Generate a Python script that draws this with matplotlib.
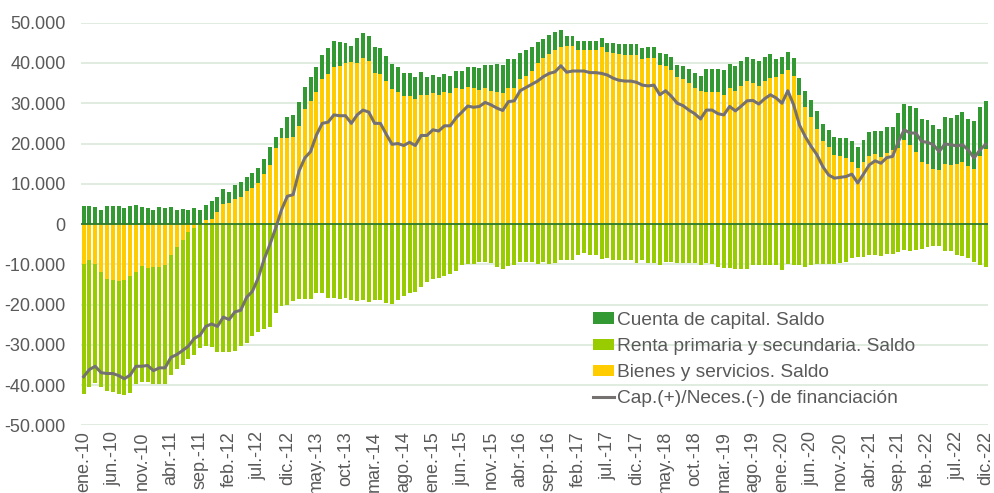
import matplotlib
matplotlib.use("Agg")
import matplotlib.pyplot as plt
from matplotlib.ticker import FuncFormatter
import numpy as np

plt.rcParams['font.family'] = ['Liberation Sans', 'DejaVu Sans']

# meses ene-10 .. dic-22 (valores en miles, se pintan en unidades)
meses = ["ene.", "feb.", "mar.", "abr.", "may.", "jun.",
         "jul.", "ago.", "sep.", "oct.", "nov.", "dic."]
anios = list(range(10, 23))
etiquetas = [m + "-" + str(a) for a in anios for m in meses]

bienes = [
    -9.8, -8.8, -10.0, -12.0, -13.6, -13.9, -14.2, -14.0, -12.8, -11.8, -10.3, -11.0,
    -10.7, -10.7, -10.1, -7.8, -5.8, -4.0, -1.9, -1.0, -0.3, 1.1, 1.3, 3.0,
    5.0, 5.2, 6.3, 6.8, 8.3, 8.9, 10.3, 12.5, 14.6, 18.8, 21.3, 21.3,
    21.5, 24.4, 28.6, 30.6, 32.9, 36.0, 37.2, 39.0, 39.3, 39.9, 40.2, 40.1,
    41.2, 40.6, 37.6, 37.3, 35.4, 33.6, 32.9, 31.8, 31.9, 31.1, 32.1, 32.1,
    32.5, 32.1, 32.9, 32.6, 33.9, 33.5, 34.1, 33.9, 33.3, 33.9, 33.1, 32.7,
    32.6, 33.8, 33.9, 36.0, 36.8, 37.9, 39.9, 41.2, 42.2, 43.1, 44.0, 44.3,
    44.2, 43.2, 43.1, 43.1, 43.1, 43.9, 42.6, 42.5, 42.1, 42.0, 42.0, 42.0,
    40.9, 41.2, 41.2, 39.5, 39.3, 38.3, 36.6, 36.0, 35.1, 33.9, 33.1, 32.7,
    32.7, 32.7, 32.1, 33.7, 33.1, 34.4, 35.4, 35.0, 34.4, 35.5, 36.2, 36.6,
    37.3, 38.3, 36.8, 32.1, 29.0, 26.7, 23.6, 20.5, 19.1, 17.2, 16.8, 16.4,
    15.5, 14.0, 15.5, 17.0, 17.4, 16.6, 17.6, 18.4, 19.0, 20.9, 19.7, 18.0,
    15.5, 14.9, 13.7, 13.5, 15.0, 14.7, 15.0, 15.3, 14.5, 13.7, 16.9, 18.7]

renta = [
    -32.5, -31.6, -29.4, -28.5, -27.9, -27.8, -28.1, -28.5, -29.1, -28.0, -29.0, -28.1,
    -29.1, -29.1, -29.7, -29.6, -30.1, -31.0, -31.6, -31.4, -30.4, -30.2, -30.6, -31.8,
    -31.7, -31.7, -31.6, -30.3, -29.5, -27.9, -26.9, -26.0, -25.5, -22.2, -20.4, -20.0,
    -19.0, -18.6, -18.6, -18.5, -17.1, -17.2, -18.3, -18.3, -18.5, -18.3, -18.9, -19.2,
    -18.9, -19.3, -18.9, -18.8, -19.6, -19.8, -18.9, -17.9, -17.2, -16.9, -15.7, -14.5,
    -13.6, -13.4, -12.8, -12.3, -11.7, -10.2, -9.8, -9.9, -9.4, -9.3, -9.7, -10.7,
    -11.2, -10.5, -10.1, -9.4, -9.3, -9.3, -9.8, -9.5, -9.8, -9.7, -8.8, -9.0,
    -9.0, -7.6, -7.3, -7.8, -7.8, -8.7, -8.4, -9.0, -9.0, -9.0, -9.0, -9.7,
    -9.0, -9.7, -9.7, -10.2, -9.4, -9.4, -9.7, -9.7, -9.7, -9.7, -10.2, -9.7,
    -9.8, -10.7, -10.9, -10.9, -11.1, -11.1, -11.1, -10.2, -10.2, -10.2, -10.2, -10.2,
    -11.5, -9.8, -10.2, -10.1, -10.7, -10.1, -9.8, -10.0, -10.0, -10.0, -9.7, -9.4,
    -8.4, -8.2, -8.2, -7.8, -7.6, -7.9, -7.4, -7.4, -7.0, -6.4, -6.8, -6.4,
    -6.2, -5.7, -5.4, -5.5, -6.8, -6.8, -7.6, -8.0, -8.4, -9.4, -10.2, -10.7]

capital = [
    4.5, 4.4, 4.2, 3.6, 4.5, 4.5, 4.5, 4.1, 4.5, 4.7, 4.2, 4.0,
    3.5, 4.2, 4.0, 4.2, 3.6, 3.7, 3.5, 4.0, 3.6, 3.7, 4.5, 3.6,
    3.6, 2.7, 3.5, 3.6, 3.5, 3.7, 3.6, 3.7, 4.5, 2.9, 2.6, 5.4,
    5.5, 5.9, 5.5, 5.8, 6.0, 6.0, 6.4, 6.4, 5.9, 5.1, 3.9, 6.2,
    6.2, 6.1, 6.3, 6.4, 6.4, 6.1, 6.0, 5.6, 5.5, 5.5, 5.6, 4.5,
    4.5, 4.5, 4.4, 4.1, 4.1, 4.5, 5.0, 5.2, 5.4, 5.6, 6.4, 7.0,
    6.9, 7.1, 7.0, 6.5, 6.3, 6.0, 5.4, 4.7, 4.7, 4.5, 4.1, 2.5,
    2.5, 2.2, 2.4, 2.4, 2.4, 2.2, 2.3, 2.5, 2.5, 2.6, 2.6, 2.6,
    2.9, 2.7, 2.8, 2.9, 3.0, 3.1, 2.9, 3.2, 3.3, 3.6, 3.6, 5.7,
    5.7, 5.7, 6.2, 6.0, 6.2, 6.0, 6.2, 6.0, 6.0, 5.9, 6.0, 4.3,
    4.3, 4.5, 4.5, 4.1, 4.1, 4.0, 4.4, 4.4, 4.3, 4.4, 4.5, 5.0,
    5.1, 5.1, 5.4, 5.8, 5.8, 6.5, 6.4, 5.8, 8.5, 8.8, 9.5, 10.7,
    10.7, 11.0, 10.9, 10.0, 11.7, 11.7, 12.1, 12.4, 11.7, 11.9, 12.1, 11.9]

cap_nec = [
    -37.9, -36.1, -35.3, -36.9, -37.1, -37.1, -37.6, -38.4, -37.5, -35.3, -35.3, -35.1,
    -36.4, -35.7, -35.7, -33.1, -32.4, -31.4, -30.3, -28.4, -27.6, -25.4, -24.8, -25.4,
    -23.1, -23.7, -21.8, -21.4, -18.2, -16.7, -13.4, -8.8, -5.1, -1.0, 3.5, 6.9,
    7.3, 13.1, 16.4, 18.0, 22.1, 25.0, 25.3, 27.1, 26.9, 26.9, 25.0, 27.1,
    28.3, 27.8, 25.0, 25.0, 22.3, 19.8, 20.0, 19.5, 20.3, 19.5, 22.0, 22.0,
    23.4, 23.1, 24.4, 24.4, 26.4, 27.8, 29.3, 29.0, 29.2, 30.2, 29.6, 28.8,
    28.2, 30.4, 30.6, 33.1, 33.9, 34.7, 35.5, 36.6, 37.4, 37.8, 39.3, 37.7,
    38.0, 38.0, 38.0, 37.6, 37.6, 37.4, 37.0, 36.2, 35.7, 35.5, 35.5, 35.2,
    34.5, 34.3, 34.5, 32.1, 33.1, 31.7, 30.0, 29.4, 28.3, 27.4, 26.1, 28.3,
    28.3, 27.4, 27.1, 29.2, 28.1, 29.3, 30.6, 30.7, 29.8, 31.1, 32.1, 31.3,
    30.0, 33.1, 29.6, 24.6, 21.7, 19.3, 17.2, 14.3, 12.2, 11.4, 11.6, 11.8,
    12.4, 10.2, 12.4, 14.7, 15.7, 15.1, 16.5, 16.8, 20.5, 23.4, 22.6, 22.6,
    20.5, 20.3, 19.7, 18.0, 19.9, 19.7, 19.4, 19.7, 18.4, 16.4, 18.4, 19.8]

bienes = np.array(bienes) * 1000
renta = np.array(renta) * 1000
capital = np.array(capital) * 1000
cap_nec = np.array(cap_nec) * 1000
x = np.arange(len(bienes))

fig = plt.figure(figsize=(9.95, 4.93), dpi=100)
ax = fig.add_axes([0.0814, 0.137, 0.9116, 0.817])

w = 0.68
b1 = ax.bar(x, bienes, w, color="#ffcc00", zorder=2)
b2 = ax.bar(x, renta, w, bottom=np.minimum(bienes, 0), color="#99cc00", zorder=2)
b3 = ax.bar(x, capital, w, bottom=np.maximum(bienes, 0), color="#339933", zorder=2)
ax.axhline(0, color="#2d7a2d", lw=1.3, zorder=3)
l1, = ax.plot(x, cap_nec, color="#767171", lw=2.2, zorder=4)

ax.set_ylim(-50000, 50000)
ax.set_xlim(-0.45, len(x) - 0.6)
ax.set_yticks(np.arange(-50000, 50001, 10000))
ax.yaxis.set_major_formatter(FuncFormatter(lambda v, p: f"{v:,.0f}".replace(",", ".")))
ax.set_xticks(x[::5])
ax.set_xticklabels(etiquetas[::5], rotation=90)
ax.tick_params(length=0, labelsize=13, labelcolor="#595959")
ax.tick_params(axis="x", pad=4)
ax.tick_params(axis="y", pad=11)
ax.grid(axis="y", color="#dce9dc", lw=1.2, zorder=0)
ax.set_axisbelow(True)
for s in ax.spines.values():
    s.set_visible(False)

leg = ax.legend([b3, b2, b1, l1],
                ["Cuenta de capital. Saldo", "Renta primaria y secundaria. Saldo",
                 "Bienes y servicios. Saldo", "Cap.(+)/Neces.(-) de financiación"],
                loc="upper left", bbox_to_anchor=(0.565, 0.282), frameon=False,
                fontsize=13.8, handlelength=1.05, handleheight=0.55,
                handletextpad=0.2, labelspacing=0.48, borderpad=0, borderaxespad=0)
for t in leg.get_texts():
    t.set_color("#595959")

fig.savefig("out.png", dpi=100)
